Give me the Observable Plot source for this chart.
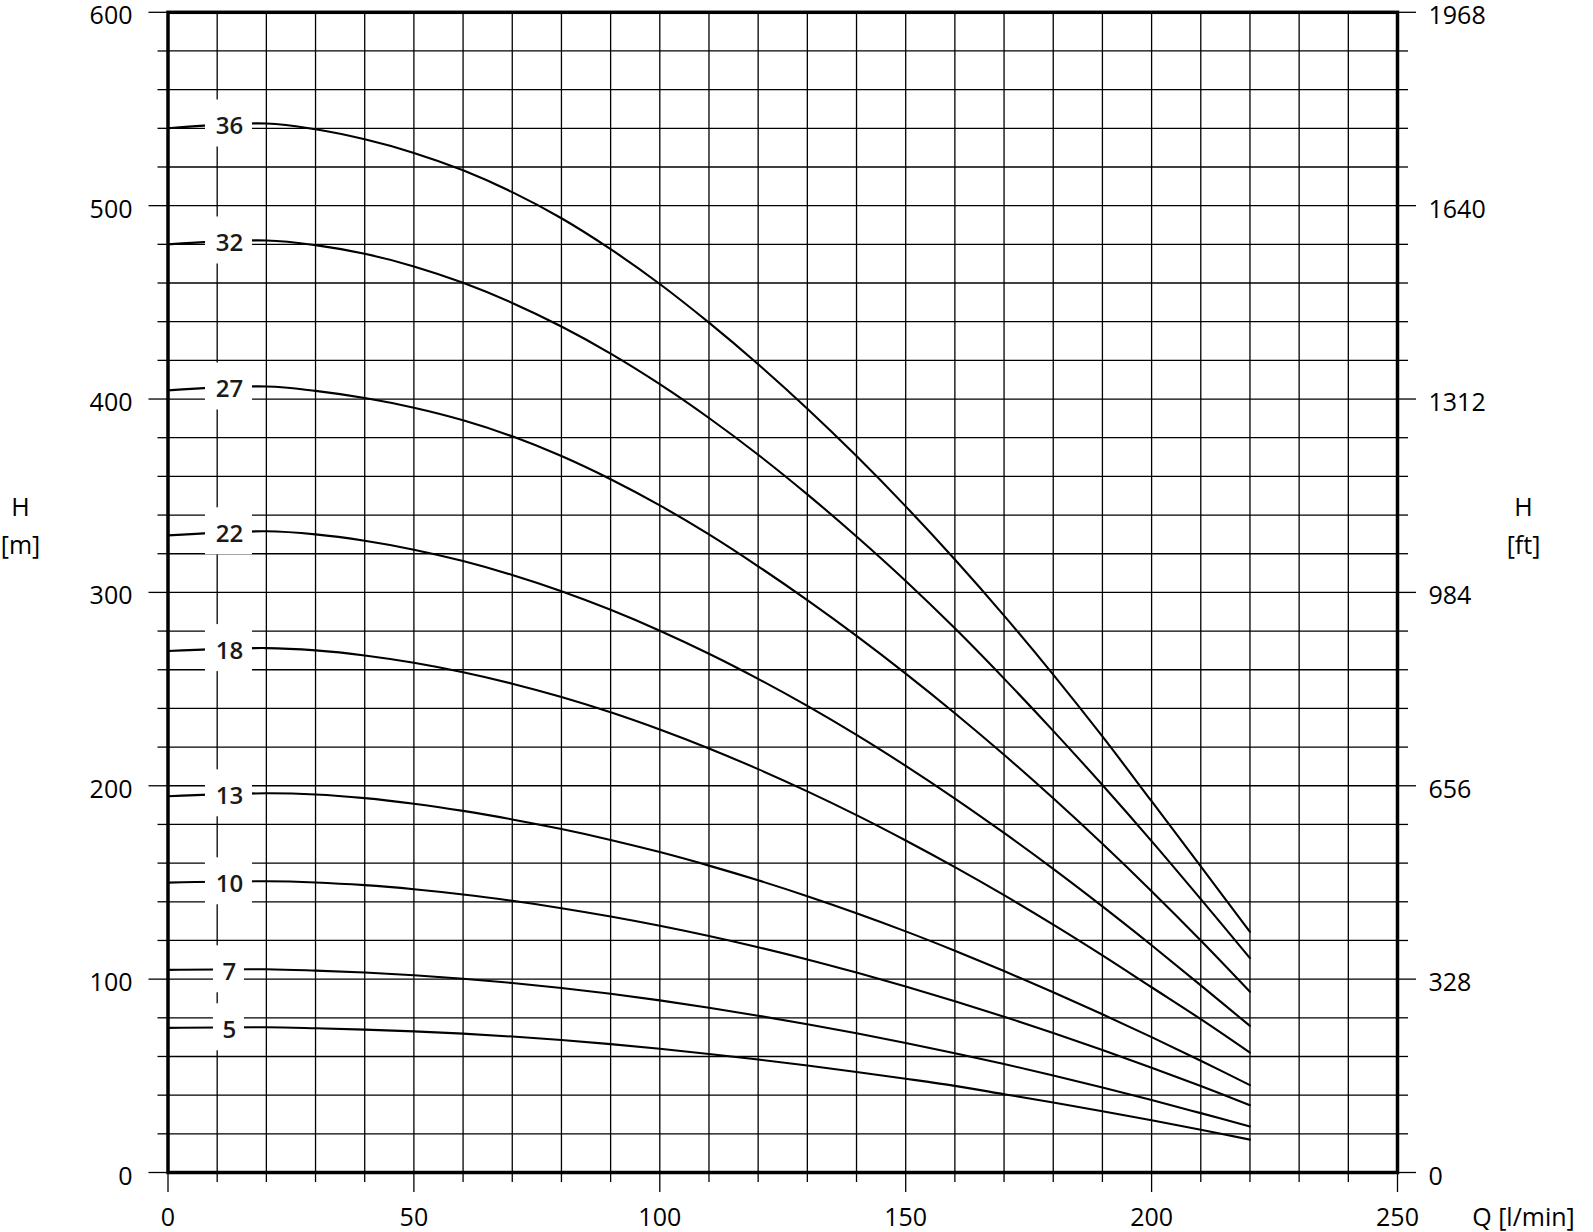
<!DOCTYPE html>
<html>
<head>
<meta charset="utf-8">
<script src="https://cdn.jsdelivr.net/npm/d3@7"></script>
<script src="https://cdn.jsdelivr.net/npm/@observablehq/plot@0.6"></script>
<style>
  html, body { margin: 0; padding: 0; background: #fff; }
  #chart svg { display: block; }
</style>
</head>
<body>
<div id="chart"></div>
<script>
// ---- Data ----
const flow = [0, 20, 30, 40, 50, 60, 70, 80, 90, 100, 110, 120, 130, 140, 150, 160, 170, 180, 190, 200, 210, 220];
const stageNames = ["36", "32", "27", "22", "18", "13", "10", "7", "5"];
const head36 = [540, 542.5, 539.5, 534.3, 527.3, 518.3, 507, 493.5, 477.5, 459.5, 439.5, 418, 395, 370.5, 344.5, 317, 288, 257.5, 225.5, 192, 158.3, 124.5];
const head32 = [480, 482, 479.6, 475.1, 468.6, 460.1, 449.7, 437.5, 423.5, 407.7, 390.2, 371.2, 350.7, 328.9, 305.9, 281.4, 255.4, 228.4, 200.4, 171.4, 141.4, 110.9];
const head27 = [404.5, 406.5, 404.2, 400.5, 395.5, 389, 380.7, 370.5, 358.5, 345, 330, 313.5, 296, 277.5, 258, 237.5, 216, 193.5, 170, 145.5, 120, 93.5];
const head22 = [329.5, 331.6, 330, 326.7, 322.1, 316.2, 309, 300.6, 291, 280.2, 268.3, 255.3, 241.3, 226.3, 210.3, 193.4, 175.6, 157, 137.6, 117.5, 96.8, 75.8];
const head18 = [269.7, 271.2, 270, 267.4, 263.6, 258.7, 252.8, 245.9, 238, 229.1, 219.3, 208.6, 197.1, 184.8, 171.7, 157.9, 143.4, 128.2, 112.3, 95.8, 79.3, 62];
const head13 = [194.6, 196.1, 195.5, 193.6, 190.7, 187, 182.6, 177.6, 172, 165.7, 158.7, 151.1, 142.9, 134.1, 124.7, 114.7, 104.2, 93.2, 81.8, 70, 57.8, 45.2];
const head10 = [149.9, 150.6, 150, 148.6, 146.5, 143.8, 140.5, 136.7, 132.4, 127.6, 122.3, 116.5, 110.2, 103.4, 96.2, 88.6, 80.6, 72.2, 63.4, 54.2, 44.7, 34.8];
const head7 = [104.8, 105.1, 104.4, 103.4, 102, 100.2, 98, 95.4, 92.4, 89, 85.2, 81.1, 76.7, 72, 67, 61.7, 56.1, 50.2, 44, 37.5, 30.7, 23.8];
const head5 = [74.8, 75.1, 74.6, 73.9, 73, 71.8, 70.3, 68.5, 66.4, 64, 61.3, 58.4, 55.3, 52, 48.5, 44.8, 40.5, 36.2, 31.7, 27, 22.1, 17];

const mTicks = [0, 100, 200, 300, 400, 500, 600];
const ftTickLabels = ["0", "328", "656", "984", "1312", "1640", "1968"];
const qTicks = [0, 50, 100, 150, 200, 250];
const xTitle = "Q [l/min]";
const yTitleLeft = ["H", "[m]"];
const yTitleRight = ["H", "[ft]"];

// ---- Layout ----
const W = 1593, H = 1232;
const mL = 167.5, mR = 196, mT = 11.8, mB = 60;
const xMax = 250, yMax = 600;
const kx = (W - mL - mR) / xMax;   // px per l/min
const ky = (H - mT - mB) / yMax;   // px per m
const px2q = p => p / kx;
const px2h = p => p / ky;

const headArrays = [head36, head32, head27, head22, head18, head13, head10, head7, head5];
const series = [];
stageNames.forEach((s, i) => flow.forEach((q, j) => series.push({stage: s, q, h: headArrays[i][j]})));

const labelQ = 12.5;
const labels = stageNames.map((s, i) => ({stage: s, h: headArrays[i][1]}));

const gridQ = d3.range(0, xMax + 1, 10);
const gridH = d3.range(0, yMax + 1, 20);
const minorH = gridH.filter(v => v % 100 !== 0);
const minorQ = gridQ.filter(v => v % 50 !== 0);

const font = "'Open Sans', 'DejaVu Sans', sans-serif";

const chart = Plot.plot({
  width: W,
  height: H,
  marginLeft: mL,
  marginRight: mR,
  marginTop: mT,
  marginBottom: mB,
  x: {domain: [0, xMax], axis: null},
  y: {domain: [0, yMax], axis: null},
  style: {fontFamily: font, background: "#fff", color: "#000", overflow: "visible"},
  marks: [
    // grid
    Plot.ruleX(gridQ, {x: d => d, y1: () => 0, y2: () => yMax, stroke: "#000", strokeWidth: 1.3, strokeOpacity: 1}),
    Plot.ruleY(gridH, {y: d => d, x1: () => 0, x2: () => xMax, stroke: "#000", strokeWidth: 1.3, strokeOpacity: 1}),
    // left ticks
    Plot.ruleY(mTicks, {y: d => d, x1: () => -px2q(19), x2: () => 0, stroke: "#000", strokeWidth: 1.3}),
    Plot.ruleY(minorH, {y: d => d, x1: () => -px2q(10), x2: () => 0, stroke: "#000", strokeWidth: 1.3}),
    // right ticks
    Plot.ruleY(mTicks, {y: d => d, x1: () => xMax, x2: () => xMax + px2q(19), stroke: "#000", strokeWidth: 1.3}),
    Plot.ruleY(minorH, {y: d => d, x1: () => xMax, x2: () => xMax + px2q(11), stroke: "#000", strokeWidth: 1.3}),
    // bottom ticks
    Plot.ruleX(qTicks, {x: d => d, y1: () => -px2h(20), y2: () => 0, stroke: "#000", strokeWidth: 1.3}),
    Plot.ruleX(minorQ, {x: d => d, y1: () => -px2h(10), y2: () => 0, stroke: "#000", strokeWidth: 1.3}),
    // curves
    Plot.line(series, {x: "q", y: "h", z: "stage", curve: "catmull-rom", stroke: "#000", strokeWidth: 2.1}),
    // label boxes
    Plot.rect(labels, {
      x1: d => labelQ - px2q((15 + 16 * d.stage.length) / 2) - px2q(0.5),
      x2: d => labelQ + px2q((15 + 16 * d.stage.length) / 2) - px2q(0.5),
      y1: d => d.h - px2h(23.5),
      y2: d => d.h + px2h(23.5),
      fill: "#fff"
    }),
    Plot.text(labels, {x: () => labelQ, y: "h", text: "stage", dy: 3, fontSize: 24, fontWeight: 600, fill: "#1a1a1a"}),
    // frame
    Plot.frame({stroke: "#000", strokeWidth: 3.5}),
    // left tick labels
    Plot.text(mTicks, {x: () => -px2q(35.5), y: d => d, text: d => String(d), textAnchor: "end", dy: 4, fontSize: 25, fill: "#000"}),
    // right tick labels
    Plot.text(mTicks, {x: () => xMax + px2q(31), y: d => d, text: (d, i) => ftTickLabels[i], textAnchor: "start", dy: 4, fontSize: 25, fill: "#000"}),
    // bottom tick labels
    Plot.text(qTicks, {x: d => d, y: () => -px2h(45), text: d => String(d), textAnchor: "middle", fontSize: 25, fill: "#000"}),
    // axis titles
    Plot.text([xTitle], {x: () => xMax + px2q(126), y: () => -px2h(45), text: d => d, textAnchor: "middle", fontSize: 25, fill: "#000"}),
    Plot.text(yTitleLeft, {x: () => -px2q(mL - 20), y: (d, i) => px2h(1172 - (507 + 38 * i)), text: d => d, textAnchor: "middle", fontSize: 25, fill: "#000"}),
    Plot.text(yTitleRight, {x: () => xMax + px2q(126), y: (d, i) => px2h(1172 - (507 + 38 * i)), text: d => d, textAnchor: "middle", fontSize: 25, fill: "#000"})
  ]
});
document.getElementById("chart").appendChild(chart);
</script>
</body>
</html>
